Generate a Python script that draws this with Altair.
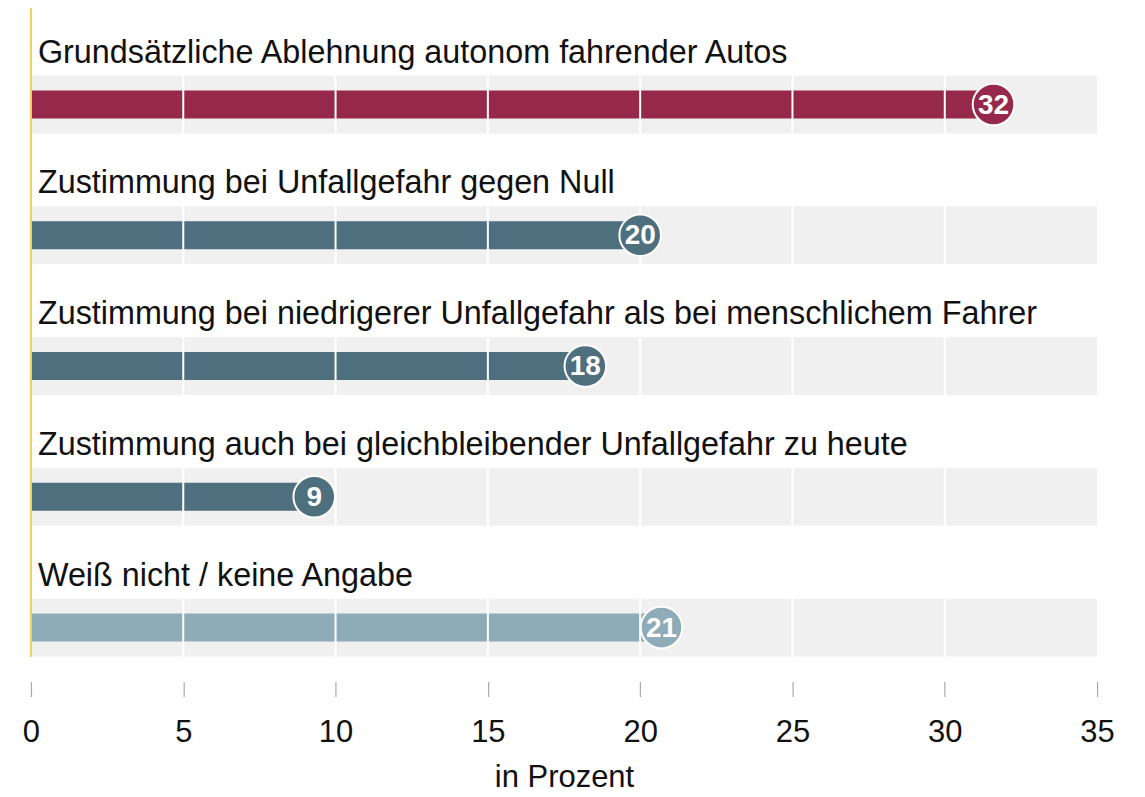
import altair as alt
import pandas as pd

categories = [
    "Grundsätzliche Ablehnung autonom fahrender Autos",
    "Zustimmung bei Unfallgefahr gegen Null",
    "Zustimmung bei niedrigerer Unfallgefahr als bei menschlichem Fahrer",
    "Zustimmung auch bei gleichbleibender Unfallgefahr zu heute",
    "Weiß nicht / keine Angabe",
]
values = [31.6, 20.0, 18.2, 9.3, 20.7]
labels = ["32", "20", "18", "9", "21"]
colors = ["#96294b", "#4d6f7e", "#8eacb7"]
color_keys = ["a", "b", "b", "b", "c"]
grid_values = [5, 10, 15, 20, 25, 30]
tick_values = [0, 5, 10, 15, 20, 25, 30, 35]

FONT = "Liberation Sans"
W, H = 1068, 655
OFF = 30.5

df = pd.DataFrame({"cat": categories, "value": values, "label": labels, "key": color_keys})
grid_df = pd.DataFrame({"g": grid_values})

yenc = alt.Y("cat:N", sort=categories, axis=None,
             scale=alt.Scale(paddingInner=0, paddingOuter=0))
xscale = alt.Scale(domain=[0, 35], nice=False, zero=True)
color = alt.Color("key:N", scale=alt.Scale(domain=["a", "b", "c"], range=colors), legend=None)

base = alt.Chart(df)

bands = base.mark_bar(color="#f0f0f0", size=58, yOffset=OFF).encode(
    y=yenc, x=alt.value(0), x2=alt.value(W))

bars = base.mark_bar(size=28, yOffset=OFF).encode(
    y=yenc,
    x=alt.X("value:Q", scale=xscale,
            axis=alt.Axis(values=tick_values, grid=False, domain=False, ticks=True,
                          tickColor="#aaaaaa", tickSize=15, tickWidth=1.2, offset=19,
                          labelFont=FONT, labelFontSize=31, labelColor="#111111",
                          labelBaseline="alphabetic", labelPadding=45, labelFlush=False,
                          labelOverlap=False,
                          title="in Prozent", titleFont=FONT, titleFontSize=31,
                          titleFontWeight="normal", titleColor="#111111",
                          titleBaseline="alphabetic", titleY=105)),
    color=color)

grid = alt.Chart(grid_df).mark_rule(color="white", strokeWidth=2).encode(
    x=alt.X("g:Q", scale=xscale), y=alt.value(0), y2=alt.value(H))

circles = base.mark_circle(size=1735, opacity=1, stroke="white", strokeWidth=2, yOffset=OFF).encode(
    y=yenc, x=alt.X("value:Q", scale=xscale), color=color)

circle_text = base.mark_text(font=FONT, fontSize=28, fontWeight="bold", color="white",
                             baseline="middle", align="center", yOffset=OFF + 1).encode(
    y=yenc, x=alt.X("value:Q", scale=xscale), text="label:N")

cat_text = base.mark_text(font=FONT, fontSize=32.4, color="#111111", align="left",
                          baseline="alphabetic", dx=7, yOffset=-11.5).encode(
    y=yenc, x=alt.value(0), text="cat:N")

yellow = alt.Chart(df).mark_rule(color="#efd25c", strokeWidth=2).encode(
    x=alt.value(0), y=alt.value(0), y2=alt.value(H - 6))

chart = alt.layer(bands, bars, grid, circles, circle_text, cat_text, yellow).properties(
    width=W, height=H,
    autosize=alt.AutoSizeParams(type="none"),
    padding={"left": 23, "top": 0, "right": 40, "bottom": 130},
).configure(background="white").configure_view(strokeWidth=0, stroke="transparent")

chart.save("out.html", embed_options={"renderer": "svg", "actions": False})
